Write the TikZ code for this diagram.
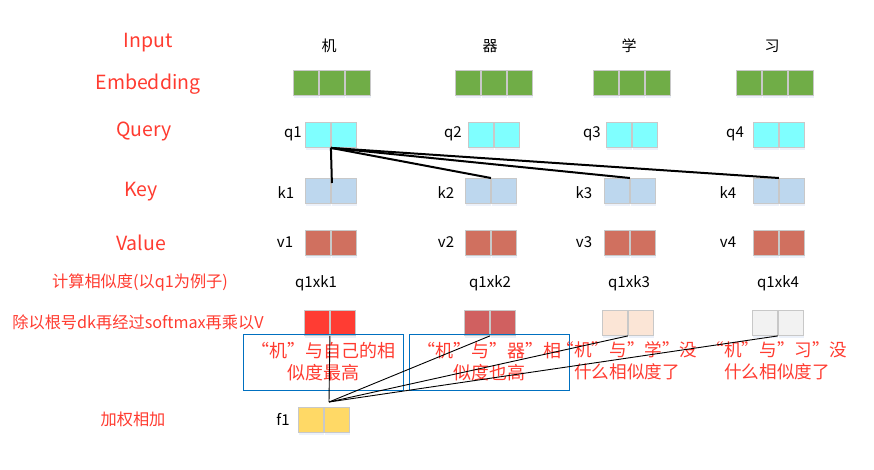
\documentclass[tikz,border=0pt]{standalone}
\usepackage{fontspec}
\setmainfont{Noto Sans CJK SC}
\usetikzlibrary{shadows,calc}
\definecolor{redtxt}{HTML}{FF3B30}
\definecolor{cellgray}{HTML}{C8C8C8}
\definecolor{embc}{HTML}{70AD47}
\definecolor{qc}{HTML}{7FFFFF}
\definecolor{kc}{HTML}{BDD7EE}
\definecolor{vc}{HTML}{D0705F}
\definecolor{sa}{HTML}{FF3C33}
\definecolor{sb}{HTML}{D06060}
\definecolor{sc}{HTML}{FBE5D6}
\definecolor{sd}{HTML}{F2F2F2}
\definecolor{fc}{HTML}{FFD966}
\definecolor{boxblue}{HTML}{0070C0}
\definecolor{shadowc}{HTML}{C8D8F0}
\tikzset{
  cell/.style={draw=cellgray, line width=0.9pt, minimum width=25pt, minimum height=25pt,
    inner sep=0pt, anchor=north west,
    drop shadow={shadow xshift=1pt, shadow yshift=-3pt, fill=shadowc, opacity=0.35}},
  rowlabel/.style={text=redtxt, font=\fontsize{19.5}{24}\selectfont, inner sep=0pt},
  cnlabel/.style={text=redtxt, font=\fontsize{16.2}{20}\selectfont, inner sep=0pt},
  blk/.style={text=black, font=\fontsize{15}{18}\selectfont, inner sep=0pt},
  note/.style={text=redtxt, font=\fontsize{17.6}{22}\selectfont, align=center, inner sep=0pt},
  notebox/.style={draw=boxblue, line width=0.9pt, minimum width=160pt, minimum height=56pt,
    text=redtxt, font=\fontsize{18}{22}\selectfont, align=center, inner sep=0pt},
  thick link/.style={line width=2pt, black},
  thin link/.style={line width=0.9pt, black},
}
\begin{document}
\begin{tikzpicture}[x=1pt,y=-1pt]
\useasboundingbox (0,0) rectangle (874,469);

% row labels
\node[rowlabel] (lInput) at (148,43) {Input};
\node[rowlabel] (lEmb) at (148,84) {Embedding};
\node[rowlabel] (lQuery) at (144,132) {Query};
\node[rowlabel] (lKey) at (141,192) {Key};
\node[rowlabel] (lValue) at (141,243) {Value};
\node[cnlabel] (lSim) at (140,283) {计算相似度(以q1为例子)};
\node[cnlabel] (lSoft) at (138,322) {除以根号dk再经过softmax再乘以V};
\node[cnlabel] (lSum) at (133,419) {加权相加};

% input characters
\node[blk] (c1) at (329,46) {机};
\node[blk] (c2) at (490,46) {器};
\node[blk] (c3) at (629,46) {学};
\node[blk] (c4) at (772,46) {习};

% embeddings
\foreach \i/\x in {1/293,2/455,3/593,4/736}{
  \node[cell,fill=embc] (e\i a) at (\x,70) {};
  \node[cell,fill=embc] (e\i b) at (\x+26,70) {};
  \node[cell,fill=embc] (e\i c) at (\x+52,70) {};
}

% queries
\foreach \i/\x/\lx in {1/305/293,2/468/453,3/606/592,4/753/735}{
  \node[cell,fill=qc] (q\i a) at (\x,122) {};
  \node[cell,fill=qc] (q\i b) at (\x+26,122) {};
  \node[blk] (ql\i) at (\lx,134) {q\i};
}

% keys
\foreach \i/\x/\lx in {1/305/286,2/465/446,3/604/584,4/753/728}{
  \node[cell,fill=kc] (k\i a) at (\x,178) {};
  \node[cell,fill=kc] (k\i b) at (\x+26,178) {};
  \node[blk] (kl\i) at (\lx,193) {k\i};
}

% values
\foreach \i/\x/\lx in {1/305/285,2/465/446,3/604/584,4/753/728}{
  \node[cell,fill=vc] (v\i a) at (\x,230) {};
  \node[cell,fill=vc] (v\i b) at (\x+26,230) {};
  \node[blk] (vl\i) at (\lx,242) {v\i};
}

% similarity labels
\foreach \i/\x in {1/316,2/490,3/629,4/778}{
  \node[blk] (p\i) at (\x,283) {q1xk\i};
}

% softmax weighted
\foreach \i/\x/\c in {1/304/sa,2/464/sb,3/602/sc,4/752/sd}{
  \node[cell,fill=\c] (s\i a) at (\x,310) {};
  \node[cell,fill=\c] (s\i b) at (\x+26,310) {};
}

% notes
\node[notebox] (n1) at (323,362) {“机”与自己的相\\似度最高};
\node[notebox] (n2) at (489,362) {“机”与”器”相\\似度也高};
\node[note] (n3) at (627,361) {“机”与”学”没\\什么相似度了};
\node[note] (n4) at (777,361) {“机”与”习”没\\什么相似度了};

% f1
\node[cell,fill=fc] (f1a) at (298,407) {};
\node[cell,fill=fc] (f1b) at (324,407) {};
\node[blk] (fl) at (283,419) {f1};

% query-key links
\coordinate (qj) at (q1a.south east);
\coordinate (k1end) at ($(k1a.north east)+(1,5)$);
\draw[thick link] (qj) -- (k1end);
\draw[thick link] (qj) -- (k2a.north east);
\draw[thick link] (qj) -- (k3a.north east);
\draw[thick link] (qj) -- (k4a.north east);

% weighted sum links
\coordinate (fj) at (329,402);
\draw[thin link] (fj) -- (s1a.south east);
\draw[thin link] (fj) -- (s2a.south east);
\draw[thin link] (fj) -- (s3a.south east);
\draw[thin link] (fj) -- (s4a.south east);
\end{tikzpicture}
\end{document}
